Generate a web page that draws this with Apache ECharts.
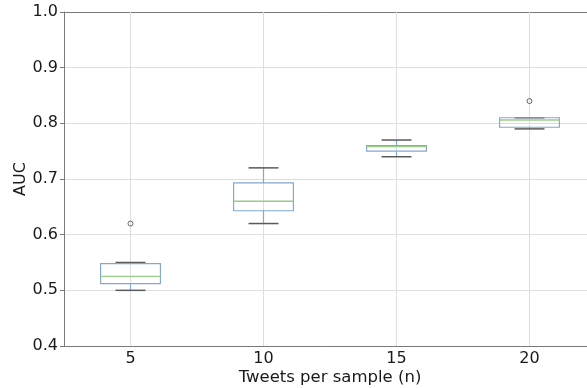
<!DOCTYPE html>
<html>
<head>
<meta charset="utf-8">
<script src="https://cdn.jsdelivr.net/npm/echarts@6/dist/echarts.min.js"></script>
<style>html,body{margin:0;padding:0;background:#fff}#c{width:587px;height:388px}</style>
</head>
<body>
<div id="c"></div>
<script>
const categories = ['5', '10', '15', '20'];
const whiskerLow  = [0.500, 0.620, 0.740, 0.790];
const q1          = [0.512, 0.643, 0.750, 0.793];
const median      = [0.525, 0.660, 0.758, 0.806];
const q3          = [0.548, 0.693, 0.760, 0.810];
const whiskerHigh = [0.550, 0.720, 0.770, 0.810];
const outlierCats = ['5', '20'];
const outlierVals = [0.620, 0.840];
const yTicks = [0.4, 0.5, 0.6, 0.7, 0.8, 0.9, 1.0];

const FONT = 'DejaVu Sans';
const boxColor = '#84a8d2';
const medColor = '#98cc88';
const capColor = '#5a5a5a';
const gridColor = '#dedede';
const spineColor = '#7a7a7a';

const boxData = categories.map((c, i) => [i, whiskerLow[i], q1[i], median[i], q3[i], whiskerHigh[i]]);

function renderBox(params, api) {
  const c = api.value(0);
  const pLow = api.coord([c, api.value(1)]);
  const pQ1 = api.coord([c, api.value(2)]);
  const pMed = api.coord([c, api.value(3)]);
  const pQ3 = api.coord([c, api.value(4)]);
  const pHigh = api.coord([c, api.value(5)]);
  const band = api.size([1, 0])[0];
  const bw = band * 0.45;
  const cw = bw * 0.5;
  const x = pMed[0];
  const blue = {stroke: boxColor, lineWidth: 1.2, fill: null};
  return {
    type: 'group',
    children: [
      {type: 'line', shape: {x1: x, y1: pLow[1], x2: x, y2: pQ1[1]}, style: blue},
      {type: 'line', shape: {x1: x, y1: pQ3[1], x2: x, y2: pHigh[1]}, style: blue},
      {type: 'line', shape: {x1: x - cw / 2, y1: pLow[1], x2: x + cw / 2, y2: pLow[1]}, style: {stroke: capColor, lineWidth: 1.5}},
      {type: 'line', shape: {x1: x - cw / 2, y1: pHigh[1], x2: x + cw / 2, y2: pHigh[1]}, style: {stroke: capColor, lineWidth: 1.5}},
      {type: 'rect', shape: {x: x - bw / 2, y: pQ3[1], width: bw, height: pQ1[1] - pQ3[1]}, style: {stroke: boxColor, lineWidth: 1.2, fill: null}},
      {type: 'line', shape: {x1: x - bw / 2, y1: pMed[1], x2: x + bw / 2, y2: pMed[1]}, style: {stroke: medColor, lineWidth: 1.3}}
    ]
  };
}

const chart = echarts.init(document.getElementById('c'), null, {renderer: 'canvas'});
chart.setOption({
  animation: false,
  backgroundColor: '#fff',
  grid: {left: 64, top: 12, width: 532, height: 334, outerBoundsMode: 'none', containLabel: false},
  xAxis: [{
    type: 'category',
    data: categories,
    boundaryGap: true,
    axisLine: {lineStyle: {color: spineColor, width: 1}},
    axisTick: {alignWithLabel: true, length: 4, lineStyle: {color: spineColor}},
    axisLabel: {fontFamily: FONT, fontSize: 16, color: '#1a1a1a', margin: 5},
    splitLine: {show: false},
    name: 'Tweets per sample (n)',
    nameLocation: 'middle',
    nameGap: 23,
    nameMoveOverlap: false,
    nameTextStyle: {fontFamily: FONT, fontSize: 16.5, color: '#1a1a1a'}
  }, {
    type: 'category',
    data: categories,
    position: 'top',
    axisLine: {show: true, lineStyle: {color: spineColor, width: 1}},
    axisTick: {show: false},
    axisLabel: {show: false}
  }],
  yAxis: {
    type: 'value',
    min: 0.4,
    max: 1.0,
    interval: 0.1,
    axisLine: {show: true, lineStyle: {color: spineColor, width: 1}},
    axisTick: {show: true, length: 4, lineStyle: {color: spineColor}},
    axisLabel: {fontFamily: FONT, fontSize: 16, color: '#1a1a1a', margin: 6,
      formatter: v => yTicks.find(t => Math.abs(t - v) < 1e-9).toFixed(1)},
    splitLine: {show: true, lineStyle: {color: gridColor, width: 1}},
    name: 'AUC',
    nameLocation: 'middle',
    nameGap: 35,
    nameMoveOverlap: false,
    nameTextStyle: {fontFamily: FONT, fontSize: 16, color: '#1a1a1a'}
  },
  series: [{
    type: 'line',
    data: [],
    z: 1,
    silent: true,
    markLine: {
      silent: true,
      symbol: ['none', 'none'],
      label: {show: false},
      lineStyle: {color: gridColor, width: 1, type: 'solid'},
      data: categories.map(c => ({xAxis: c}))
    }
  }, {
    type: 'custom',
    z: 5,
    renderItem: renderBox,
    encode: {x: 0, y: [1, 2, 3, 4, 5]},
    data: boxData
  }, {
    type: 'scatter',
    z: 6,
    symbol: 'circle',
    symbolSize: 5,
    itemStyle: {color: 'rgba(255,255,255,0)', borderColor: '#444', borderWidth: 1},
    data: outlierCats.map((c, i) => [c, outlierVals[i]])
  }]
});
</script>
</body>
</html>
